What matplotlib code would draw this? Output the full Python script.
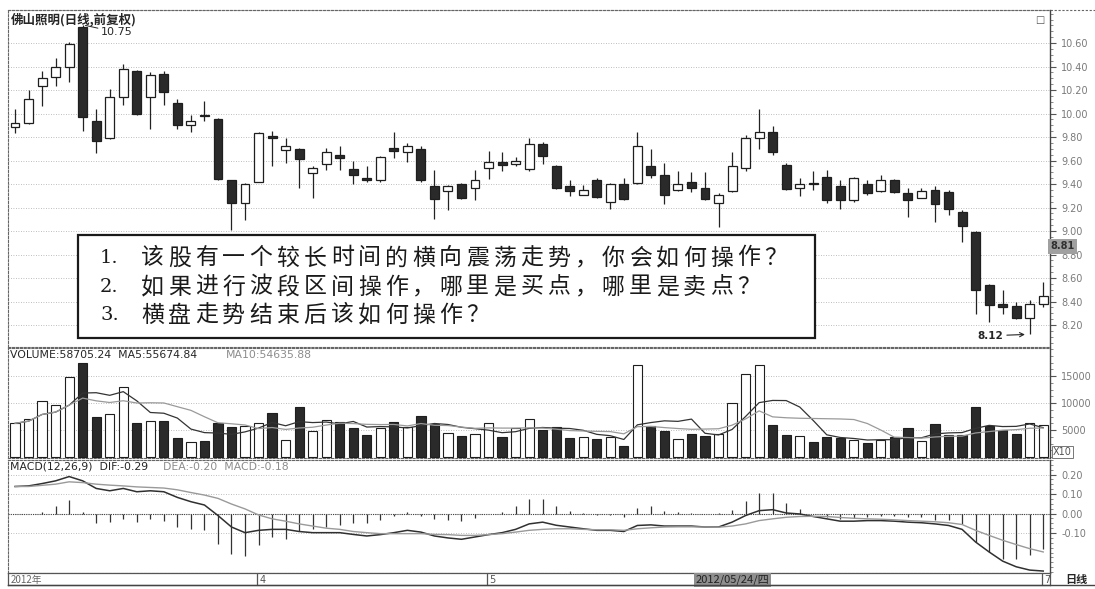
import numpy as np
import pandas as pd
import matplotlib
matplotlib.use('Agg')
import matplotlib.pyplot as plt
from matplotlib.ticker import MultipleLocator, FixedLocator
from matplotlib.patches import Rectangle
from matplotlib.lines import Line2D

# ── 数据────────────────────────────────────────────────────
opens = [9.885, 9.92, 10.23, 10.31, 10.40, 10.74, 9.94, 9.79, 10.14, 10.36,
         10.14, 10.34, 10.09, 9.90, 9.98, 9.95, 9.43, 9.24, 9.42, 9.81,
         9.69, 9.70, 9.49, 9.57, 9.65, 9.53, 9.45, 9.43, 9.71, 9.67,
         9.70, 9.38, 9.34, 9.40, 9.37, 9.54, 9.59, 9.57, 9.53, 9.74,
         9.55, 9.38, 9.31, 9.43, 9.25, 9.40, 9.41, 9.55, 9.48, 9.35,
         9.42, 9.37, 9.24, 9.34, 9.54, 9.79, 9.84, 9.56, 9.37, 9.40,
         9.46, 9.38, 9.26, 9.40, 9.34, 9.43, 9.32, 9.28, 9.35, 9.33,
         9.16, 8.99, 8.54, 8.38, 8.36, 8.26, 8.38]
highs = [10.04, 10.20, 10.36, 10.47, 10.61, 10.75, 10.04, 10.21, 10.42, 10.37,
         10.35, 10.36, 10.12, 9.99, 10.11, 9.96, 9.43, 9.41, 9.84, 9.85,
         9.79, 9.71, 9.55, 9.71, 9.72, 9.60, 9.55, 9.64, 9.84, 9.75,
         9.72, 9.52, 9.39, 9.41, 9.52, 9.68, 9.67, 9.63, 9.79, 9.76,
         9.56, 9.43, 9.39, 9.45, 9.41, 9.45, 9.84, 9.70, 9.58, 9.51,
         9.50, 9.50, 9.32, 9.67, 9.82, 10.04, 9.89, 9.58, 9.45, 9.51,
         9.52, 9.43, 9.46, 9.43, 9.48, 9.44, 9.37, 9.37, 9.38, 9.35,
         9.18, 9.00, 8.55, 8.50, 8.40, 8.41, 8.57]
lows = [9.83, 9.91, 10.06, 10.23, 10.27, 9.85, 9.66, 9.78, 10.07, 9.99,
        9.87, 10.07, 9.87, 9.84, 9.94, 9.43, 9.01, 9.09, 9.42, 9.55,
        9.58, 9.37, 9.28, 9.52, 9.52, 9.40, 9.42, 9.42, 9.62, 9.59,
        9.42, 9.10, 9.18, 9.27, 9.26, 9.44, 9.51, 9.55, 9.51, 9.57,
        9.36, 9.30, 9.31, 9.28, 9.19, 9.26, 9.40, 9.45, 9.23, 9.34,
        9.33, 9.26, 9.03, 9.33, 9.51, 9.70, 9.65, 9.35, 9.30, 9.35,
        9.24, 9.19, 9.25, 9.31, 9.33, 9.32, 9.12, 9.28, 9.08, 9.14,
        8.91, 8.29, 8.23, 8.29, 8.25, 8.12, 8.35]
closes = [9.92, 10.12, 10.30, 10.40, 10.59, 9.97, 9.77, 10.14, 10.38, 10.00,
          10.33, 10.18, 9.90, 9.94, 9.98, 9.44, 9.24, 9.40, 9.83, 9.79,
          9.72, 9.61, 9.54, 9.67, 9.62, 9.48, 9.43, 9.63, 9.68, 9.72,
          9.43, 9.27, 9.38, 9.28, 9.43, 9.59, 9.56, 9.60, 9.74, 9.64,
          9.37, 9.34, 9.35, 9.29, 9.40, 9.27, 9.72, 9.48, 9.31, 9.40,
          9.37, 9.27, 9.31, 9.55, 9.79, 9.84, 9.67, 9.36, 9.40, 9.40,
          9.26, 9.26, 9.45, 9.32, 9.43, 9.33, 9.26, 9.34, 9.23, 9.19,
          9.04, 8.50, 8.37, 8.35, 8.26, 8.38, 8.45]

# 成交量（单位 x10）
volumes = [6240, 7040, 10370, 9630, 14760, 17460, 7350, 7960, 13020, 6240,
           6670, 6670, 3460, 2840, 2960, 6240, 5500, 5740, 6350, 8200,
           3150, 9320, 4870, 6850, 6480, 5430, 4130, 5310, 6540, 5500,
           7590, 6110, 4380, 3950, 4200, 6240, 3760, 5310, 7040, 5000,
           5610, 3460, 3640, 3270, 3760, 2100, 17040, 5740, 4870, 3270,
           4200, 3890, 4200, 9940, 15310, 17040, 5930, 4070, 3950, 2840,
           3760, 3460, 3150, 2530, 3150, 3760, 5430, 2960, 6110, 4070,
           4070, 9320, 5740, 5000, 4260, 6300, 5870]

dif = [0.139, 0.142, 0.154, 0.168, 0.190, 0.168, 0.129, 0.117, 0.129, 0.112,
       0.117, 0.112, 0.083, 0.061, 0.044, -0.010, -0.069, -0.098, -0.086, -0.081,
       -0.081, -0.092, -0.098, -0.098, -0.098, -0.107, -0.115, -0.108, -0.098, -0.086,
       -0.095, -0.115, -0.125, -0.132, -0.120, -0.108, -0.098, -0.081, -0.053, -0.044,
       -0.060, -0.069, -0.078, -0.086, -0.086, -0.092, -0.061, -0.058, -0.064, -0.064,
       -0.064, -0.069, -0.069, -0.044, -0.010, 0.015, 0.020, 0.003, -0.002, -0.015,
       -0.027, -0.039, -0.039, -0.036, -0.036, -0.039, -0.044, -0.047, -0.053, -0.061,
       -0.081, -0.146, -0.197, -0.244, -0.273, -0.290, -0.295]
dea = [0.139, 0.139, 0.145, 0.151, 0.163, 0.159, 0.151, 0.146, 0.142, 0.137,
       0.134, 0.131, 0.122, 0.108, 0.095, 0.078, 0.049, 0.024, -0.007, -0.027,
       -0.039, -0.053, -0.064, -0.075, -0.081, -0.092, -0.098, -0.103, -0.103, -0.103,
       -0.103, -0.107, -0.108, -0.112, -0.112, -0.108, -0.103, -0.095, -0.086, -0.081,
       -0.078, -0.078, -0.081, -0.083, -0.083, -0.086, -0.078, -0.073, -0.069, -0.068,
       -0.068, -0.069, -0.070, -0.064, -0.053, -0.036, -0.027, -0.019, -0.015, -0.014,
       -0.015, -0.020, -0.024, -0.027, -0.029, -0.032, -0.036, -0.039, -0.042, -0.047,
       -0.056, -0.086, -0.112, -0.137, -0.159, -0.180, -0.197]
macd_hist = [0.0, 0.0, 0.01, 0.04, 0.07, 0.01, -0.05, -0.045, -0.03, -0.045,
             -0.03, -0.04, -0.07, -0.08, -0.085, -0.155, -0.21, -0.22, -0.16, -0.12,
             -0.13, -0.09, -0.08, -0.07, -0.06, -0.05, -0.05, -0.035, -0.01, 0.01,
             -0.01, -0.03, -0.035, -0.04, -0.025, 0.0, 0.01, 0.04, 0.075, 0.075,
             0.04, 0.015, 0.005, -0.005, -0.005, -0.015, 0.03, 0.04, 0.015, 0.01,
             0.005, 0.0, 0.005, 0.02, 0.065, 0.105, 0.105, 0.055, 0.025, 0.0,
             -0.02, -0.03, -0.025, -0.02, -0.01, -0.01, -0.02, -0.02, -0.035, -0.035,
             -0.055, -0.145, -0.195, -0.235, -0.235, -0.215, -0.18]

price_ticks = [10.60, 10.40, 10.20, 10.00, 9.80, 9.60, 9.40, 9.20, 9.00, 8.80, 8.60, 8.40, 8.20]
vol_ticks = [15000, 10000, 5000]
macd_ticks = [0.20, 0.10, 0.00, -0.10]
month_pos = [18, 35, 76]
month_labels = ['4', '5', '7']

CJK = ['Noto Sans CJK SC', 'DejaVu Sans']
DARK = '#262626'
GREY = '#8c8c8c'
W, H = 1095, 589


def px_rect(l, t, r, b):
    return [l / W, 1 - b / H, (r - l) / W, (b - t) / H]


def style_panel(ax, xmin, xmax):
    for side in ('top', 'bottom', 'left'):
        ax.spines[side].set_linestyle((0, (2, 1.5)))
        ax.spines[side].set_color('#666666')
        ax.spines[side].set_linewidth(0.8)
    ax.spines['right'].set_color('#444444')
    ax.spines['right'].set_linewidth(1.0)
    ax.yaxis.tick_right()
    ax.tick_params(axis='y', which='major', direction='out', length=4,
                   color='#555555', labelcolor='#7a7a7a', labelsize=7, pad=4)
    ax.tick_params(axis='y', which='minor', direction='out', length=2,
                   color='#777777')
    ax.tick_params(axis='x', bottom=False, labelbottom=False)
    ax.grid(axis='y', which='major', linestyle=(0, (1, 2)), color='#a8a8a8', lw=0.6)
    ax.set_xlim(xmin, xmax)
    ax.set_facecolor('white')


def main():
    plt.rcParams['font.family'] = ['DejaVu Sans']
    o = np.array(opens)
    h = np.array(highs)
    lo = np.array(lows)
    c = np.array(closes)
    x = np.arange(len(o))
    is_up = c > o
    face = np.where(is_up, 'white', '#2a2a2a')

    xmin, xmax = -0.52, 76.5

    fig = plt.figure(figsize=(W / 100, H / 100), dpi=100)
    fig.patch.set_facecolor('white')

    ax_p = fig.add_axes(px_rect(8, 10, 1050, 347))
    ax_v = fig.add_axes(px_rect(8, 348, 1050, 458))
    ax_m = fig.add_axes(px_rect(8, 460, 1050, 573))
    ax_d = fig.add_axes(px_rect(8, 573, 1050, 585))

    # ── K线 ─────────────────────────────────────────────────────────
    style_panel(ax_p, xmin, xmax)
    ax_p.vlines(x, lo, h, color='#222222', lw=0.9, zorder=2)
    ax_p.bar(x, np.maximum(np.abs(c - o), 0.006), bottom=np.minimum(o, c),
             width=0.66, color=face, edgecolor='#1e1e1e', linewidth=0.9, zorder=3)
    ax_p.set_ylim(8.013, 10.881)
    ax_p.yaxis.set_major_locator(FixedLocator(price_ticks))
    ax_p.yaxis.set_minor_locator(MultipleLocator(0.05))
    ax_p.set_yticklabels([f'{t:.2f}' for t in price_ticks])
    ax_p.text(0.003, 0.993, '佛山照明(日线,前复权)', transform=ax_p.transAxes,
              ha='left', va='top', fontsize=9, fontweight='bold',
              color=DARK, family=CJK)

    ax_p.annotate('10.75', xy=(5.2, 10.75), xytext=(11, -5), textcoords='offset points',
                  ha='left', va='center', fontsize=8, color=DARK,
                  arrowprops=dict(arrowstyle='-', color=DARK, lw=0.7,
                                  shrinkA=0, shrinkB=0))
    ax_p.annotate('8.12', xy=(74.75, 8.12), xytext=(-17, -1), textcoords='offset points',
                  ha='right', va='center', fontsize=7.5, fontweight='bold', color=DARK,
                  arrowprops=dict(arrowstyle='->', color=DARK, lw=0.8,
                                  shrinkA=1, shrinkB=1))
    ax_p.text(1.0, 8.87, '8.81', transform=ax_p.get_yaxis_transform(),
              ha='left', va='center', fontsize=7, fontweight='bold', color='#303030',
              bbox=dict(boxstyle='square,pad=0.25', facecolor='#a0a0a0',
                        edgecolor='none'), clip_on=False, zorder=5)
    ax_p.text(0.995, 0.985, '\u25a1', transform=ax_p.transAxes, ha='right', va='top',
              fontsize=7, color='#555555')

    # ── 成交量 ──────────────────────────────────────────────────────
    style_panel(ax_v, xmin, xmax)
    vol = pd.Series(volumes)
    ma5 = vol.rolling(5, min_periods=1).mean()
    ma10 = vol.rolling(10, min_periods=1).mean()
    ax_v.bar(x, vol, width=0.68, color=face, edgecolor='#1e1e1e', linewidth=0.8, zorder=3)
    ax_v.plot(x, ma5, color='#333333', lw=0.9, zorder=4)
    ax_v.plot(x, ma10, color='#9a9a9a', lw=0.9, zorder=4)
    ax_v.set_ylim(-185, 20200)
    ax_v.yaxis.set_major_locator(FixedLocator(vol_ticks))
    ax_v.yaxis.set_minor_locator(MultipleLocator(1250))
    ax_v.set_yticklabels([str(t) for t in vol_ticks])
    ax_v.text(0.002, 0.985, 'VOLUME:58705.24  MA5:55674.84', transform=ax_v.transAxes,
              ha='left', va='top', fontsize=7.8, color=DARK)
    ax_v.text(0.209, 0.985, 'MA10:54635.88', transform=ax_v.transAxes,
              ha='left', va='top', fontsize=7.8, color=GREY)
    ax_v.text(1.003, 925, 'X10', transform=ax_v.get_yaxis_transform(),
              ha='left', va='center', fontsize=7, color='#555555', clip_on=False,
              bbox=dict(boxstyle='square,pad=0.15', facecolor='white',
                        edgecolor='#777777', lw=0.7))

    # ── MACD ────────────────────────────────────────────────────────
    style_panel(ax_m, xmin, xmax)
    ax_m.axhline(0, color='#444444', lw=0.8, linestyle=(0, (1, 1)), zorder=2)
    ax_m.vlines(x, 0, macd_hist, color='#333333', lw=0.9, zorder=3)
    ax_m.plot(x, dif, color='#303030', lw=1.1, zorder=4)
    ax_m.plot(x, dea, color='#9a9a9a', lw=1.0, zorder=4)
    ax_m.set_ylim(-0.305, 0.275)
    ax_m.yaxis.set_major_locator(FixedLocator(macd_ticks))
    ax_m.yaxis.set_minor_locator(MultipleLocator(0.025))
    ax_m.set_yticklabels([f'{t:.2f}' for t in macd_ticks])
    ax_m.text(0.002, 0.985, 'MACD(12,26,9)  DIF:-0.29', transform=ax_m.transAxes,
              ha='left', va='top', fontsize=7.8, color=DARK)
    ax_m.text(0.149, 0.985, 'DEA:-0.20  MACD:-0.18', transform=ax_m.transAxes,
              ha='left', va='top', fontsize=7.8, color=GREY)

    # ── 日期栏 ──────────────────────────────────────────────────────
    ax_d.set_xlim(xmin, xmax)
    ax_d.set_ylim(0, 1)
    ax_d.set_xticks([])
    ax_d.set_yticks([])
    for sp in ax_d.spines.values():
        sp.set_color('#555555')
        sp.set_linewidth(0.9)
    ax_d.text(0.003, 0.45, '2012年', transform=ax_d.transAxes, ha='left', va='center',
              fontsize=7, color='#666666', family=CJK)
    for pos, lab in zip(month_pos, month_labels):
        ax_d.axvline(pos - 0.1, color='#555555', lw=0.9)
        ax_d.text(pos + 0.05, 0.45, lab, ha='left', va='center', fontsize=7,
                  color='#555555')
    ax_d.text(50.3, 0.45, '2012/05/24/四', ha='left', va='center', fontsize=8,
              color='#222222', family=CJK,
              bbox=dict(boxstyle='square,pad=0.15', facecolor='#8f8f8f', edgecolor='none'))
    fig.text(1076 / W, 1 - 579 / H, '日线', ha='center', va='center', fontsize=8,
             fontweight='bold', color=DARK, family=CJK)

    fig.add_artist(Line2D([8 / W, 1.0], [1 - 10 / H, 1 - 10 / H], color='#666666',
                          lw=0.8, linestyle=(0, (2, 1.5))))
    fig.add_artist(Line2D([8 / W, 1.0], [1 - 585 / H, 1 - 585 / H], color='#444444',
                          lw=1.0))

    # ── 提问文本框 ──────────────────────────────────────────────────
    fig.add_artist(Rectangle((78 / W, 1 - 338 / H), (815 - 78) / W, (338 - 235) / H,
                             transform=fig.transFigure, facecolor='white',
                             edgecolor='#1a1a1a', lw=1.6, zorder=10))
    questions = ['该股有一个较长时间的横向震荡走势，你会如何操作？',
                 '如果进行波段区间操作，哪里是买点，哪里是卖点？',
                 '横盘走势结束后该如何操作？']
    line_y = [258, 287, 315]
    step = 27.1
    for k, (q, yy) in enumerate(zip(questions, line_y)):
        fig.text(100 / W, 1 - yy / H, f'{k + 1}.', ha='left', va='center',
                 fontsize=14, color='#1a1a1a', family='DejaVu Serif', zorder=11)
        for j, ch in enumerate(q):
            fig.text((141 + j * step) / W, 1 - yy / H, ch, ha='left', va='center',
                     fontsize=16.5, color='#1a1a1a', family=CJK, zorder=11)

    fig.savefig('out.png', dpi=100, facecolor='white')


if __name__ == '__main__':
    main()
